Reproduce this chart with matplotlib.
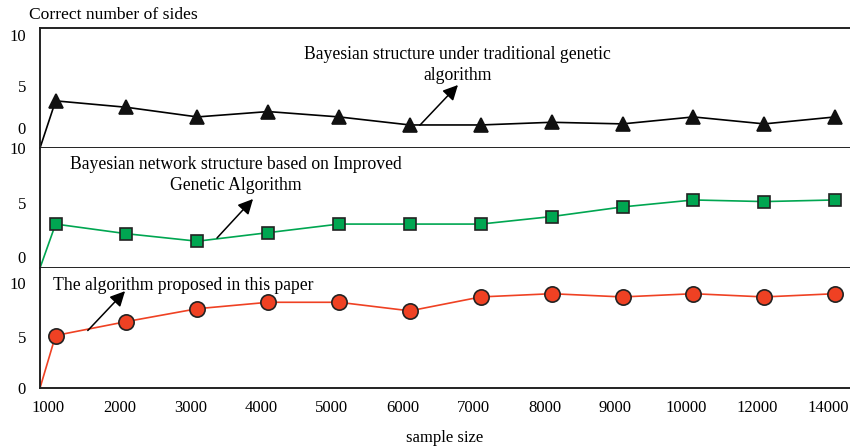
import numpy as np
import matplotlib
matplotlib.use("Agg")
import matplotlib.pyplot as plt

# ---------------- data ----------------
sample_sizes = ["1000", "2000", "3000", "4000", "5000", "6000", "7000",
                "8000", "9000", "10000", "12000", "14000"]
traditional_ga = [4.4, 3.8, 2.9, 3.4, 2.9, 2.15, 2.15, 2.4, 2.25, 2.9, 2.25, 2.9]
improved_ga = [4.1, 3.2, 2.5, 3.3, 4.1, 4.1, 4.1, 4.8, 5.7, 6.35, 6.2, 6.35]
proposed = [4.9, 6.2, 7.4, 8.0, 8.0, 7.2, 8.5, 8.8, 8.5, 8.8, 8.5, 8.8]
start_value = 0
ytick_labels = ["0", "5", "10"]

series_labels = [
    "Bayesian structure under traditional genetic\nalgorithm",
    "Bayesian network structure based on Improved\nGenetic Algorithm",
    "The algorithm proposed in this paper",
]

# ---------------- style ----------------
plt.rcParams["font.family"] = ["Liberation Serif", "DejaVu Serif"]
FS = 12
FS_TXT = 12.7
SPINE = "#222222"

fig = plt.figure(figsize=(8.5, 4.47), dpi=100)
gs = fig.add_gridspec(3, 1, left=40 / 850, right=1.0, top=1 - 28 / 447,
                      bottom=1 - 388 / 447, hspace=0)
axes = [fig.add_subplot(gs[i]) for i in range(3)]

xpos = np.arange(len(sample_sizes))
xmin, xmax = -0.22, 11.21
ymax = 11.2

panels = [
    dict(vals=traditional_ga, color="black", marker="^", ms=10, mfc="#111111",
         mec="#111111", ticks=[1.87, 5.8, 10.56]),
    dict(vals=improved_ga, color="#00a651", marker="s", ms=8.5, mfc="#00a651",
         mec="#222222", ticks=[1.0, 6.1, 11.19]),
    dict(vals=proposed, color="#ef4123", marker="o", ms=11, mfc="#ef4123",
         mec="#222222", ticks=[0.0, 4.77, 9.8]),
]

for ax, p in zip(axes, panels):
    xs = np.concatenate([[xmin], xpos])
    ys = np.concatenate([[start_value], p["vals"]])
    ax.plot(xs, ys, color=p["color"], lw=1.2, zorder=2)
    ax.plot(xpos, p["vals"], linestyle="none", marker=p["marker"],
            ms=p["ms"], mfc=p["mfc"], mec=p["mec"], mew=1.2, zorder=3,
            clip_on=False)
    ax.set_xlim(xmin, xmax)
    ax.set_ylim(0, ymax)
    ax.set_yticks(p["ticks"])
    ax.set_yticklabels(ytick_labels, fontsize=FS)
    ax.tick_params(axis="y", length=0, pad=10)
    ax.spines["right"].set_visible(False)
    for s in ("left", "bottom", "top"):
        ax.spines[s].set_color(SPINE)
        ax.spines[s].set_linewidth(1.4)

axes[1].spines["top"].set_visible(False)
axes[2].spines["top"].set_visible(False)

for ax in axes[:2]:
    ax.set_xticks([])
axes[2].set_xticks(xpos - 0.1)
axes[2].set_xticklabels(sample_sizes, fontsize=FS)
axes[2].tick_params(axis="x", length=0, pad=9)
axes[2].set_xlabel("sample size", fontsize=FS, labelpad=10)

fig.text(29 / 850, 1 - 15 / 447, "Correct number of sides", fontsize=12.6,
         ha="left", va="center")

arrow_kw = dict(arrowstyle="-|>,head_length=0.9,head_width=0.45",
                color="black", lw=1.1, shrinkA=0, shrinkB=0)

# panel annotations (axes-fraction positions)
axes[0].text(0.515, 0.69, series_labels[0], transform=axes[0].transAxes,
             ha="center", va="center", multialignment="center", fontsize=FS_TXT,
             linespacing=1.35)
axes[0].annotate("", xy=(0.516, 0.525), xytext=(0.469, 0.19),
                 xycoords="axes fraction", textcoords="axes fraction",
                 arrowprops=arrow_kw)

axes[1].text(0.242, 0.775, series_labels[1], transform=axes[1].transAxes,
             ha="center", va="center", multialignment="center", fontsize=FS_TXT,
             linespacing=1.3)
axes[1].annotate("", xy=(0.263, 0.575), xytext=(0.2185, 0.25),
                 xycoords="axes fraction", textcoords="axes fraction",
                 arrowprops=arrow_kw)

axes[2].text(0.016, 0.857, series_labels[2], transform=axes[2].transAxes,
             ha="left", va="center", fontsize=FS_TXT)
axes[2].annotate("", xy=(0.105, 0.807), xytext=(0.059, 0.479),
                 xycoords="axes fraction", textcoords="axes fraction",
                 arrowprops=arrow_kw)

fig.savefig("out.png", dpi=100)
